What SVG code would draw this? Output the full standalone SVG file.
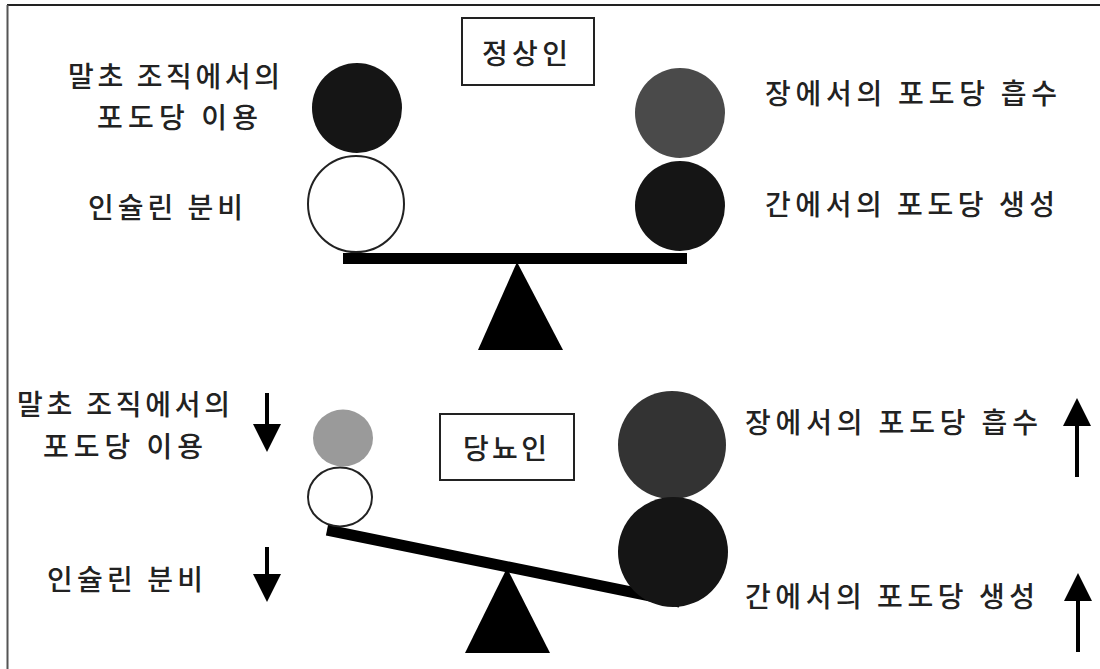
<svg xmlns="http://www.w3.org/2000/svg" width="1100" height="669" viewBox="0 0 1100 669">
<style>
text{font-family:"Noto Sans CJK KR","Noto Sans",sans-serif;font-size:28px;fill:#222;font-weight:500}
.box{fill:#fff;stroke:#222;stroke-width:2}
.dark{fill:#151515}
.white{fill:#fff;stroke:#222;stroke-width:2}
.fulcrum{fill:#000}
.beam{stroke:#000;stroke-width:11;fill:none}
.arr{stroke:#000;stroke-width:4;fill:none}
</style>
<defs>
<marker id="ah" viewBox="0 0 10 10" refX="5" refY="5" markerWidth="7" markerHeight="7" markerUnits="strokeWidth" orient="auto">
<path d="M0,0 L10,5 L0,10 Z" fill="#000"/>
</marker>
</defs>
<rect x="0" y="0" width="1100" height="669" fill="#fff"/>
<g id="frame">
<line x1="7" y1="5" x2="1100" y2="5" stroke="#222" stroke-width="2"/>
<line x1="7.5" y1="5" x2="7.5" y2="669" stroke="#555" stroke-width="2"/>
</g>

<g id="normal">
<g id="normal-label"><rect class="box" x="462" y="18" width="132" height="67"/><text x="482" y="64" textLength="86" lengthAdjust="spacing">정상인</text></g>
<g id="normal-fulcrum"><polygon class="fulcrum" points="517,262 478,350 563,350"/></g>
<g id="normal-beam"><line class="beam" x1="343" y1="258.5" x2="687" y2="258.5"/></g>
<g id="normal-utilization"><circle cx="357" cy="108" r="45" class="dark"/><text x="68" y="87" textLength="212" lengthAdjust="spacing">말초 조직에서의</text><text x="97" y="128" textLength="161" lengthAdjust="spacing">포도당 이용</text></g>
<g id="normal-insulin"><circle cx="356" cy="204" r="48" class="white"/><text x="88" y="218" textLength="155" lengthAdjust="spacing">인슐린 분비</text></g>
<g id="normal-absorption"><circle cx="680" cy="113" r="45" fill="#4a4a4a"/><text x="765" y="104" textLength="292" lengthAdjust="spacing">장에서의 포도당 흡수</text></g>
<g id="normal-production"><circle cx="680" cy="206" r="45" class="dark"/><text x="765" y="215" textLength="290" lengthAdjust="spacing">간에서의 포도당 생성</text></g>
</g>

<g id="diabetic">
<g id="diabetic-label"><rect class="box" x="440" y="414" width="134" height="66"/><text x="463" y="459" textLength="84" lengthAdjust="spacing">당뇨인</text></g>
<g id="diabetic-fulcrum"><polygon class="fulcrum" points="507,568 465,653 550,653"/></g>
<g id="diabetic-beam"><line class="beam" x1="327" y1="530" x2="680" y2="602" stroke-width="12"/></g>
<g id="diabetic-utilization"><ellipse cx="343" cy="438" rx="30" ry="28.5" fill="#9a9a9a"/><text x="17" y="415" textLength="213" lengthAdjust="spacing">말초 조직에서의</text><text x="43" y="457" textLength="160" lengthAdjust="spacing">포도당 이용</text></g>
<g id="diabetic-insulin"><ellipse cx="340" cy="497" rx="32" ry="29.5" class="white"/><text x="47" y="590" textLength="156" lengthAdjust="spacing">인슐린 분비</text></g>
<g id="diabetic-absorption"><circle cx="672" cy="445" r="54" fill="#333"/><text x="745" y="433" textLength="293" lengthAdjust="spacing">장에서의 포도당 흡수</text></g>
<g id="diabetic-production"><circle cx="673" cy="552" r="55" class="dark"/><text x="745" y="607" textLength="290" lengthAdjust="spacing">간에서의 포도당 생성</text></g>
</g>

<g id="connectors">
<line class="arr" x1="267" y1="393" x2="267" y2="438" marker-end="url(#ah)"/>
<line class="arr" x1="267" y1="547" x2="267" y2="588" marker-end="url(#ah)"/>
<line class="arr" x1="1077" y1="477" x2="1077" y2="412" marker-end="url(#ah)"/>
<line class="arr" x1="1078" y1="652" x2="1078" y2="587" marker-end="url(#ah)"/>
</g>
</svg>
